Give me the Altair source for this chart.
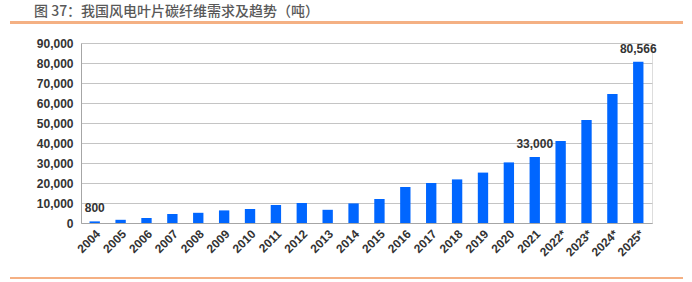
import altair as alt
import pandas as pd

years = ["2004", "2005", "2006", "2007", "2008", "2009", "2010", "2011", "2012",
         "2013", "2014", "2015", "2016", "2017", "2018", "2019", "2020", "2021",
         "2022*", "2023*", "2024*", "2025*"]
demand = [800, 1600, 2500, 4500, 5100, 6300, 7000, 9000, 10000,
          6600, 9800, 12000, 18000, 20000, 21800, 25200, 30300, 33000,
          41000, 51500, 64500, 80566]
annotated = ["2004", "2021", "2025*"]
title_text = "图 37：我国风电叶片碳纤维需求及趋势（吨）"
y_ticks = [0, 10000, 20000, 30000, 40000, 50000, 60000, 70000, 80000, 90000]

df = pd.DataFrame({"year": years, "demand": demand})
df["note"] = [y in annotated for y in years]

W, H = 571, 180
LEFT, TOP = 81, 43

x_enc = alt.X("year:N", sort=years, title=None,
              scale=alt.Scale(paddingInner=0.6, paddingOuter=0.33),
              axis=alt.Axis(labelAngle=-45, labelAlign="right", labelBaseline="top",
                            labelPadding=5, ticks=False, domainColor="#a6a6a6",
                            labelFont="Liberation Sans", labelFontSize=12,
                            labelFontWeight="bold", labelColor="#333333"))
y_enc = alt.Y("demand:Q", title=None,
              scale=alt.Scale(domain=[0, 90000], nice=False),
              axis=alt.Axis(values=y_ticks, format=",.0f", ticks=False, labelPadding=8,
                            grid=True, gridColor="#c4c4c4", domainColor="#a6a6a6",
                            labelFont="Liberation Sans", labelFontSize=12,
                            labelFontWeight="bold", labelColor="#333333"))

bars = alt.Chart(df).mark_bar(color="#0066ff").encode(x=x_enc, y=y_enc)

labels = alt.Chart(df).transform_filter("datum.note").mark_text(
    dy=-9, baseline="alphabetic", align="center", font="Liberation Sans",
    fontSize=12, fontWeight="bold", color="#333333"
).encode(x=x_enc, y=y_enc, text=alt.Text("demand:Q", format=",.0f"))

top_line = alt.Chart(df).mark_rule(color="#f4b183", strokeWidth=1.5).encode(
    x=alt.value(10 - LEFT), x2=alt.value(683 - LEFT), y=alt.value(22.5 - TOP))
bottom_line = alt.Chart(df).mark_rule(color="#f4b183", strokeWidth=1.5).encode(
    x=alt.value(10 - LEFT), x2=alt.value(683 - LEFT), y=alt.value(278 - TOP))

chart = alt.layer(bars, labels, top_line, bottom_line).properties(
    width=W, height=H,
    title=alt.TitleParams(text=title_text, anchor="start", frame="group",
                          dx=-47, offset=3, font="Noto Sans CJK SC",
                          fontSize=14, fontWeight=500, color="#595959"),
    autosize=alt.AutoSizeParams(type="none"),
    padding={"left": LEFT, "top": TOP, "right": 692 - LEFT - W, "bottom": 282 - TOP - H},
).configure_view(stroke=None).configure(background="white")

chart.save("out.html", embed_options={"renderer": "svg", "actions": False})
